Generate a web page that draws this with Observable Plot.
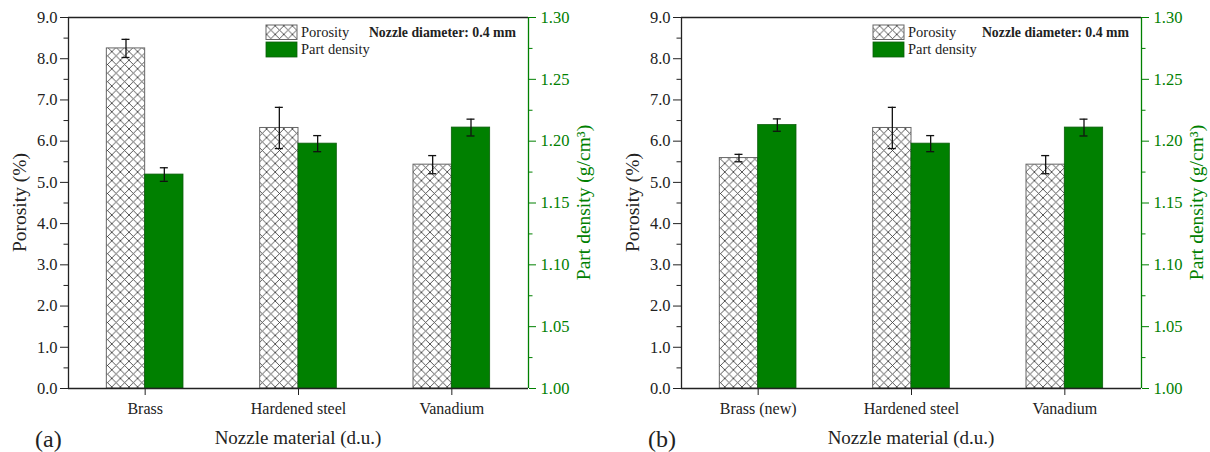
<!DOCTYPE html>
<html><head><meta charset="utf-8">
<script src="https://cdn.jsdelivr.net/npm/d3@7"></script>
<script src="https://cdn.jsdelivr.net/npm/@observablehq/plot@0.6"></script>
<style>
html,body{margin:0;padding:0;background:#fff;}
body{width:1210px;height:452px;overflow:hidden;position:relative;font-family:"Liberation Serif",serif;}
.panel{position:absolute;top:0;width:597px;height:452px;}
.panel svg{display:block;font-family:"Liberation Serif",serif !important;}
.panel svg text{font-family:"Liberation Serif",serif;}
</style></head><body>
<div id="pa" class="panel" style="left:0"></div>
<div id="pb" class="panel" style="left:613px"></div>
<script>
// ---- data ----
const categoriesA = ["Brass", "Hardened steel", "Vanadium"];
const porosityA = [8.25, 6.32, 5.43];
const porosityErrA = [0.22, 0.50, 0.22];
const densityA = [1.173, 1.198, 1.211];
const densityErrA = [0.0055, 0.0065, 0.0068];

const categoriesB = ["Brass (new)", "Hardened steel", "Vanadium"];
const porosityB = [5.59, 6.32, 5.43];
const porosityErrB = [0.09, 0.50, 0.22];
const densityB = [1.213, 1.198, 1.211];
const densityErrB = [0.005, 0.0065, 0.0068];

const porosityTicks = [0, 1, 2, 3, 4, 5, 6, 7, 8, 9];
const porosityMinorTicks = [0.5, 1.5, 2.5, 3.5, 4.5, 5.5, 6.5, 7.5, 8.5];
const densityTicks = [1.00, 1.05, 1.10, 1.15, 1.20, 1.25, 1.30];
const densityMinorTicks = [1.025, 1.075, 1.125, 1.175, 1.225, 1.275];
const porosityDomain = [0, 9];
const densityDomain = [1.00, 1.30];

const legendLabels = ["Porosity", "Part density"];
const noteText = "Nozzle diameter: 0.4 mm";
const xTitle = "Nozzle material (d.u.)";
const yTitle = "Porosity (%)";
const y2Title = "Part density (g/cm³)";

// ---- style ----
const GREEN = "#008000";
const INK = "#222";
const FONT = "'Liberation Serif', serif";
const barW = 0.25;

// density -> porosity-axis units
const toP = d => (d - densityDomain[0]) / (densityDomain[1] - densityDomain[0]) * (porosityDomain[1] - porosityDomain[0]) + porosityDomain[0];
const fromP = v => densityDomain[0] + (v - porosityDomain[0]) / (porosityDomain[1] - porosityDomain[0]) * (densityDomain[1] - densityDomain[0]);

function panel(el, id, tag, cats, por, porE, den, denE, legendX) {
  const rows = cats.map((c, k) => ({
    i: k + 1, cat: c,
    p: por[k], plo: por[k] - porE[k], phi: por[k] + porE[k],
    d: toP(den[k]), dlo: toP(den[k] - denE[k]), dhi: toP(den[k] + denE[k])
  }));
  const xDomain = [0.5, cats.length + 0.5];
  const hatch = `url(#hatch-${id})`;
  const svg = Plot.plot({
    width: 597, height: 452,
    marginLeft: 68, marginRight: 69, marginTop: 17, marginBottom: 64,
    style: {fontFamily: FONT, background: "transparent", color: INK, overflow: "visible"},
    x: {domain: xDomain},
    y: {domain: porosityDomain},
    marks: [
      Plot.rect(rows, {x1: r => r.i - barW, x2: r => r.i, y1: () => 0, y2: "p",
        fill: hatch, stroke: "#666", strokeWidth: 1}),
      Plot.rect(rows, {x1: r => r.i, x2: r => r.i + barW, y1: () => 0, y2: "d",
        fill: GREEN, stroke: "#0b5e0b", strokeWidth: 0.8}),
      // error bars
      Plot.ruleX(rows, {x: r => r.i - barW / 2, y1: "plo", y2: "phi", stroke: "#111", strokeWidth: 1.3}),
      Plot.ruleY(rows, {y: "plo", x1: r => r.i - barW / 2, x2: r => r.i - barW / 2, insetLeft: -4, insetRight: -4, stroke: "#111", strokeWidth: 1.3}),
      Plot.ruleY(rows, {y: "phi", x1: r => r.i - barW / 2, x2: r => r.i - barW / 2, insetLeft: -4, insetRight: -4, stroke: "#111", strokeWidth: 1.3}),
      Plot.ruleX(rows, {x: r => r.i + barW / 2, y1: "dlo", y2: "dhi", stroke: "#111", strokeWidth: 1.3}),
      Plot.ruleY(rows, {y: "dlo", x1: r => r.i + barW / 2, x2: r => r.i + barW / 2, insetLeft: -4, insetRight: -4, stroke: "#111", strokeWidth: 1.3}),
      Plot.ruleY(rows, {y: "dhi", x1: r => r.i + barW / 2, x2: r => r.i + barW / 2, insetLeft: -4, insetRight: -4, stroke: "#111", strokeWidth: 1.3}),
      // axes
      Plot.axisY(porosityTicks, {anchor: "left", tickSize: 8, tickPadding: 3, tickFormat: d => d.toFixed(1), fontSize: 16.5, color: INK, label: null}),
      Plot.axisY(porosityMinorTicks, {anchor: "left", tickSize: 4.5, tickFormat: () => "", color: INK, label: null}),
      Plot.axisY(densityTicks.map(toP), {anchor: "right", tickSize: 7, tickPadding: 5, tickFormat: v => fromP(v).toFixed(2), fontSize: 16.5, color: GREEN, label: null}),
      Plot.axisY(densityMinorTicks.map(toP), {anchor: "right", tickSize: 3.5, tickFormat: () => "", color: GREEN, label: null}),
      Plot.axisX(rows.map(r => r.i), {anchor: "bottom", tickSize: 7, tickPadding: 7, tickFormat: i => cats[i - 1], fontSize: 16, color: INK, label: null}),
      // frame
      Plot.ruleY([porosityDomain[0]], {stroke: INK, strokeWidth: 1.3}),
      Plot.ruleY([porosityDomain[1]], {stroke: INK, strokeWidth: 1.3}),
      Plot.ruleX([xDomain[0]], {stroke: INK, strokeWidth: 1.3}),
      Plot.ruleX([xDomain[1]], {stroke: GREEN, strokeWidth: 1.3})
    ]
  });
  const s = d3.select(svg);
  s.attr("font-family", FONT);
  const defs = s.insert("defs", ":first-child");
  const pat = defs.append("pattern").attr("id", `hatch-${id}`)
    .attr("patternUnits", "userSpaceOnUse").attr("width", 8.6).attr("height", 8.6);
  pat.append("rect").attr("width", 8.6).attr("height", 8.6).attr("fill", "#fff");
  pat.append("path").attr("d", "M-1,-1L9.6,9.6M9.6,-1L-1,9.6").attr("stroke", "#444").attr("stroke-width", 0.9).attr("fill", "none");

  const g = s.append("g").attr("font-family", FONT).attr("text-anchor", "start");
  // axis titles
  g.append("text").attr("transform", "translate(19,202.5) rotate(-90)").attr("text-anchor", "middle")
    .attr("dominant-baseline", "central").attr("font-size", 19.5).attr("fill", INK).text(yTitle);
  g.append("text").attr("transform", "translate(583,202.5) rotate(-90)").attr("text-anchor", "middle")
    .attr("dominant-baseline", "central").attr("font-size", 19.5).attr("fill", GREEN).text(y2Title);
  g.append("text").attr("x", 298).attr("y", 444).attr("text-anchor", "middle")
    .attr("font-size", 19).attr("fill", INK).text(xTitle);
  g.append("text").attr("x", 35).attr("y", 447).attr("text-anchor", "start").attr("font-size", 24).attr("fill", INK).text(tag);
  // legend
  g.append("rect").attr("x", legendX).attr("y", 25).attr("width", 31).attr("height", 14.5)
    .attr("fill", hatch).attr("stroke", "#666").attr("stroke-width", 1);
  g.append("rect").attr("x", legendX).attr("y", 42).attr("width", 31).attr("height", 15)
    .attr("fill", GREEN).attr("stroke", "#0b5e0b").attr("stroke-width", 0.8);
  g.append("text").attr("x", legendX + 35).attr("y", 37).attr("text-anchor", "start").attr("font-size", 14.5).attr("fill", INK).text(legendLabels[0]);
  g.append("text").attr("x", legendX + 35).attr("y", 54).attr("text-anchor", "start").attr("font-size", 14.5).attr("fill", INK).text(legendLabels[1]);
  g.append("text").attr("x", 516).attr("y", 36.5).attr("text-anchor", "end").attr("font-size", 13.8)
    .attr("font-weight", "bold").attr("fill", INK).text(noteText);
  el.appendChild(svg);
}

panel(document.getElementById("pa"), "a", "(a)", categoriesA, porosityA, porosityErrA, densityA, densityErrA, 266);
panel(document.getElementById("pb"), "b", "(b)", categoriesB, porosityB, porosityErrB, densityB, densityErrB, 260);
</script>
</body></html>
